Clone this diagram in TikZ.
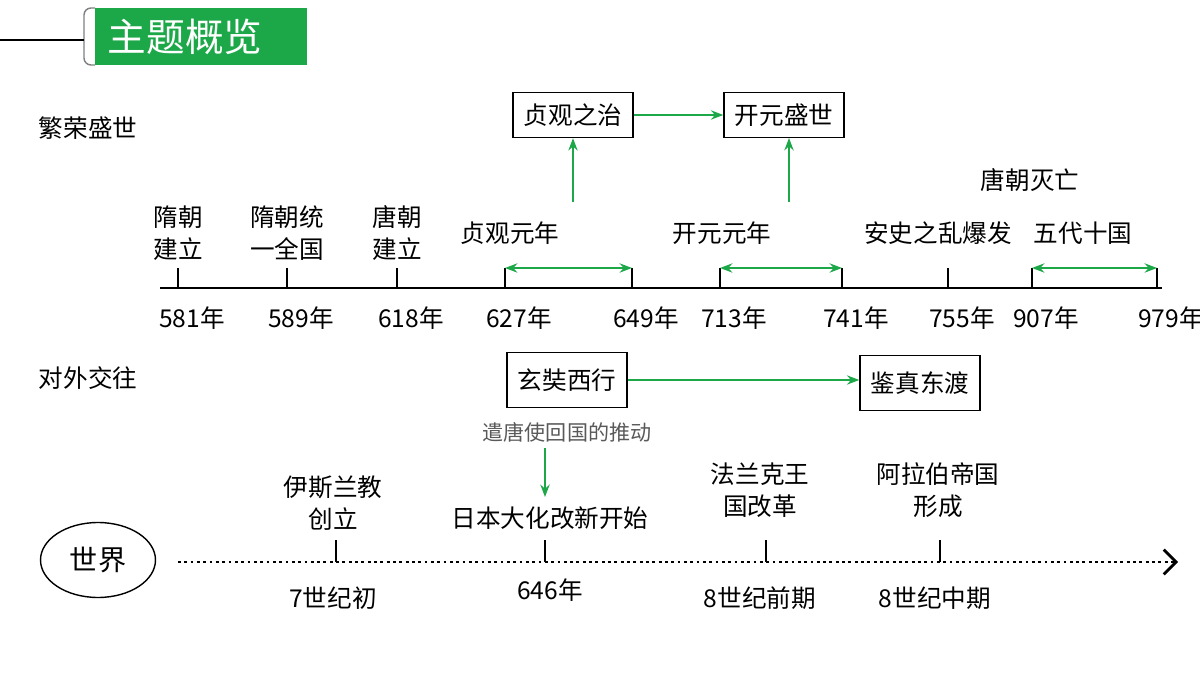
\documentclass[tikz,border=0pt]{standalone}
\usepackage{fontspec}
\usepackage{tikz}
\usetikzlibrary{arrows.meta,shapes.geometric}
\newfontfamily\cjk{Noto Sans CJK SC}
\definecolor{tgreen}{RGB}{28,168,72}

\begin{document}
\begin{tikzpicture}[x=0.02cm, y=-0.02cm,
	every node/.style={font=\cjk\fontsize{14}{18}\selectfont, align=center, inner sep=1pt},
	evbox/.style={draw=black, thick, minimum width=2.4cm, minimum height=0.9cm},
	garrow/.style={-{Stealth[length=7pt]}, draw=tgreen, very thick},
	gdouble/.style={{Stealth[length=7pt]}-{Stealth[length=7pt]}, draw=tgreen, very thick}]
	\useasboundingbox (0,0) rectangle (1200,675);
	% title
	\fill[tgreen] (95,8) rectangle (307,65);
	\draw[gray, thick, rounded corners=4pt] (95,8) -- (84,8) -- (84,65) -- (95,65);
	\draw[thick] (0,40) -- (84,40);
	\node[text=white, font=\cjk\fontsize{22}{26}\selectfont] (title) at (185,37) {主题概览};
	% row labels
	\node (prosper) at (88,128) {繁荣盛世};
	\node (foreign) at (88,378) {对外交往};
	% Tang timeline
	\coordinate (tlA) at (160,288);
	\coordinate (tlB) at (1162,288);
	\draw[line width=1.6pt] (tlA) -- (tlB);
	\foreach \x/\yr in {178/581,287/589,397/618,505/627,632/649,720/713,842/741,948/755,1032/907,1157/979}{
		\coordinate (t\yr) at (\x,288);
		\draw[line width=1.6pt] (\x,268) -- (t\yr);
		\node (y\yr) at (\x+14,318) {\yr 年};
	}
	\node (e581) at (178,233) {隋朝\\建立};
	\node (e589) at (287,233) {隋朝统\\一全国};
	\node (e618) at (397,233) {唐朝\\建立};
	\node (e627) at (510,233) {贞观元年};
	\node (e713) at (722,233) {开元元年};
	\node (e755) at (938,233) {安史之乱爆发};
	\node (e907) at (1030,180) {唐朝灭亡};
	\node (e979) at (1083,233) {五代十国};
	\draw[gdouble] (505,268) -- (632,268);
	\draw[gdouble] (720,268) -- (842,268);
	\draw[gdouble] (1032,268) -- (1157,268);
	% boxes
	\node[evbox] (zhenguan) at (573,115) {贞观之治};
	\node[evbox] (kaiyuan) at (784,115) {开元盛世};
	\draw[garrow] (zhenguan) -- (kaiyuan);
	\draw[garrow] (573,202) -- (zhenguan);
	\draw[garrow] (789,202) -- (789,138);
	\node[evbox, minimum height=1.1cm] (xuanzang) at (567,380) {玄奘西行};
	\node[evbox, minimum height=1.1cm] (jianzhen) at (920,383) {鉴真东渡};
	\draw[garrow] (xuanzang.east) -- (jianzhen.west |- xuanzang.east);
	\node[text=gray!70!black, font=\cjk\fontsize{12}{14}\selectfont] (envoy) at (567,432) {遣唐使回国的推动};
	\node (taika) at (550,518) {日本大化改新开始};
	\draw[garrow] (545,448) -- (545,497);
	% world timeline
	\node[draw, thick, ellipse, minimum width=2.3cm, minimum height=1.5cm, font=\cjk\fontsize{16}{18}\selectfont] (world) at (98,560) {世界};
	\coordinate (wlA) at (178,562);
	\coordinate (wlB) at (1178,562);
	\draw[line width=1.6pt, dotted, -{Straight Barb[length=7pt]}] (wlA) -- (wlB);
	\foreach \x/\n in {336/a,545/b,766/c,940/d}{
		\draw[line width=1.6pt] (\x,540) -- (\x,562);
	}
	\node (islam) at (333,503) {伊斯兰教\\创立};
	\node (frank) at (760,490) {法兰克王\\国改革};
	\node (arab) at (938,490) {阿拉伯帝国\\形成};
	\node (w7) at (333,598) {7世纪初};
	\node (w646) at (550,590) {646年};
	\node (w8a) at (760,598) {8世纪前期};
	\node (w8b) at (935,598) {8世纪中期};
\end{tikzpicture}
\end{document}
